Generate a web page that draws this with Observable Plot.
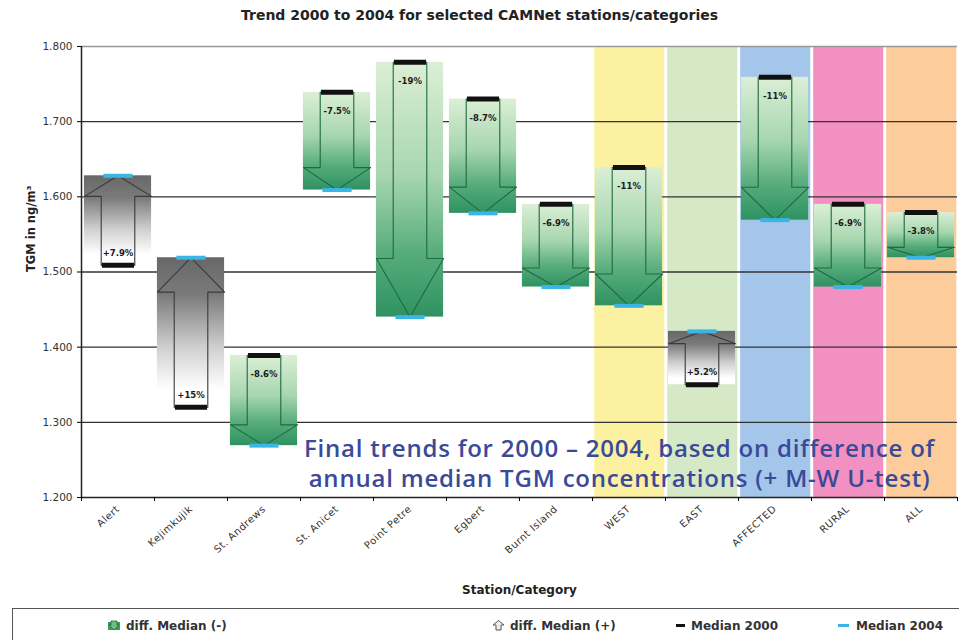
<!DOCTYPE html>
<html><head><meta charset="utf-8">
<script src="https://cdn.jsdelivr.net/npm/d3@7"></script>
<script src="https://cdn.jsdelivr.net/npm/@observablehq/plot@0.6"></script>
<style>
body{margin:0;width:959px;height:640px;overflow:hidden;background:#fff;font-family:"DejaVu Sans",sans-serif;position:relative}
#title{height:30px;line-height:30px;text-align:center;font-weight:bold;font-size:14px;color:#222}
#chart{height:575px}
#legendbox{position:absolute;left:12px;top:608px;width:960px;height:40px;border:1.5px solid #555;border-right:none;box-sizing:border-box}
.item{position:absolute;top:619px;font-weight:bold;font-size:12px;line-height:14px;color:#333;white-space:nowrap}
.item svg{vertical-align:-1px;margin-right:5px}
</style></head>
<body>
<div id="title">Trend 2000 to 2004 for selected CAMNet stations/categories</div>
<div id="chart"></div>
<div id="legendbox"></div>
<div class="item" style="left:107px"><svg width="14" height="11"><rect x="1" y="2" width="12" height="8" fill="#3f9a5c"/><path d="M4,1 L10,1 L10,5 L12,5 L7,10 L2,5 L4,5 Z" fill="#6cc07f" stroke="#1f6a40" stroke-width="0.8"/></svg>diff. Median (-)</div>
<div class="item" style="left:492px"><svg width="13" height="11"><path d="M1,5 L6.5,0.5 L12,5 L9,5 L9,10 L4,10 L4,5 Z" fill="#eee" stroke="#555" stroke-width="1"/></svg>diff. Median (+)</div>
<div class="item" style="left:676px"><svg width="10" height="11"><rect x="0" y="4" width="9" height="3" fill="#111"/></svg>Median 2000</div>
<div class="item" style="left:838px"><svg width="13" height="11"><rect x="0" y="4" width="11" height="3" fill="#3ab6e6"/></svg>Median 2004</div>
<script>
const categories = ["Alert","Kejimkujik","St. Andrews","St. Anicet","Point Petre","Egbert","Burnt Island","WEST","EAST","AFFECTED","RURAL","ALL"];
const median2000 = [1.509,1.320,1.389,1.739,1.779,1.730,1.590,1.639,1.350,1.759,1.590,1.579];
const median2004 = [1.628,1.519,1.269,1.609,1.440,1.578,1.480,1.455,1.421,1.569,1.480,1.519];
const changeLabels = ["+7.9%","+15%","-8.6%","-7.5%","-19%","-8.7%","-6.9%","-11%","+5.2%","-11%","-6.9%","-3.8%"];
const groupCategories = ["WEST","EAST","AFFECTED","RURAL","ALL"];
const groupColors = ["#fbf1a1","#d5e9c6","#a3c6ea","#f290c1","#fccc9a"];
const yTicks = [1.2,1.3,1.4,1.5,1.6,1.7,1.8];
const annotation = "Final trends for 2000 \u2013 2004, based on difference of\nannual median TGM concentrations (+ M-W U-test)";

const rows = categories.map((c,i)=>({cat:c,i,m2000:median2000[i],m2004:median2004[i],label:changeLabels[i],down:median2004[i]<median2000[i]}));
const HW=0.46, SW=0.23, HEAD=0.23;
const arrowPts = rows.flatMap(d=>{
  const hb = d.m2004 - HEAD*(d.m2004-d.m2000); const c=d.i;
  return [[c-SW,d.m2000],[c-SW,hb],[c-HW,hb],[c,d.m2004],[c+HW,hb],[c+SW,hb],[c+SW,d.m2000],[c-SW,d.m2000]]
    .map(([x,y])=>({x,y,cat:d.cat,down:d.down}));
});
const bands = groupCategories.map((g,k)=>({i:categories.indexOf(g), fill:groupColors[k]}));

function gradients(){
  const d = d3.create("svg:defs");
  const add=(id,stops)=>{const g=d.append("linearGradient").attr("id",id).attr("x1",0).attr("y1",0).attr("x2",0).attr("y2",1);
    stops.forEach(([o,c])=>g.append("stop").attr("offset",o).attr("stop-color",c));};
  add("gDown",[[0,"#dcefd6"],[0.45,"#a6d6ae"],[0.76,"#55ab7a"],[1,"#2f9262"]]);
  add("gUp",[[0,"#686868"],[0.25,"#7a7a7a"],[0.6,"#cfcfcf"],[0.88,"#ffffff"]]);
  return d.node();
}

const chart = Plot.plot({
  width:959, height:575, marginTop:16, marginLeft:81, marginRight:2, marginBottom:108,
  style:{fontFamily:"DejaVu Sans", background:"#fff"},
  x:{domain:[-0.5,11.5]}, y:{domain:[1.2,1.8]}, color:{type:"identity"},
  marks:[
    gradients,
    Plot.rect(bands,{x1:d=>d.i-0.47,x2:d=>d.i+0.49,y1:1.2,y2:1.8,fill:"fill"}),
    Plot.ruleY(yTicks.slice(1,-1),{stroke:"#333",strokeWidth:1.4}),
    Plot.ruleY([1.8],{stroke:"#999",strokeWidth:1.5}),
    Plot.rect(rows.filter(d=>d.down),{x1:d=>d.i-HW,x2:d=>d.i+HW,y1:"m2000",y2:"m2004",fill:"url(#gDown)"}),
    Plot.rect(rows.filter(d=>!d.down),{x1:d=>d.i-HW,x2:d=>d.i+HW,y1:"m2000",y2:"m2004",fill:"url(#gUp)"}),
    Plot.line(arrowPts.filter(d=>d.down),{x:"x",y:"y",z:"cat",stroke:"#1f6a40",strokeWidth:1.1}),
    Plot.line(arrowPts.filter(d=>!d.down),{x:"x",y:"y",z:"cat",stroke:"#3a3a3a",strokeWidth:1.1}),
    Plot.link(rows,{x1:d=>d.i-0.22,x2:d=>d.i+0.22,y1:"m2000",y2:"m2000",stroke:"#111",strokeWidth:5}),
    Plot.link(rows,{x1:d=>d.i-0.2,x2:d=>d.i+0.2,y1:"m2004",y2:"m2004",stroke:"#3ab6e6",strokeWidth:4}),
    Plot.text(rows.filter(d=>d.down),{x:"i",y:"m2000",text:"label",dy:19,fontSize:8.5,fontWeight:"bold",fill:"#1a1a1a"}),
    Plot.text(rows.filter(d=>!d.down),{x:"i",y:"m2000",text:"label",dy:-12,fontSize:8.5,fontWeight:"bold",fill:"#1a1a1a"}),
    Plot.text([annotation],{x:6.87,y:1.247,text:d=>d,fontFamily:"Open Sans",fontSize:24,fill:"#3a4a98",lineHeight:1.27,textAnchor:"middle"}),
    Plot.ruleX([-0.5],{stroke:"#222",strokeWidth:1.5}),
    Plot.ruleY([1.2],{stroke:"#222",strokeWidth:1.5}),
    Plot.axisY(yTicks,{tickFormat:d=>d.toFixed(3),tickSize:4,fontSize:10.5,fill:"#333",label:null}),
    Plot.axisX(d3.range(13).map(i=>i-0.5),{tickSize:4,tickFormat:()=>"",label:null}),
    Plot.axisX(d3.range(12),{tickSize:0,tickPadding:10,tickFormat:i=>categories[i],tickRotate:-42,fontSize:10,fill:"#333",label:null}),
    Plot.text(["TGM in ng/m\u00b3"],{text:d=>d,frameAnchor:"left",rotate:-90,dx:-50,fontWeight:"bold",fontSize:11.5,fill:"#222"}),
    Plot.text(["Station/Category"],{text:d=>d,frameAnchor:"bottom",dy:96,fontWeight:"bold",fontSize:12,fill:"#222"})
  ]
});
const sel = d3.select(chart);
sel.selectAll("text").filter(function(){return this.textContent.startsWith("Final")||this.textContent.startsWith("annual");})
  .style("letter-spacing","0.8px").style("font-weight","600");
sel.selectAll("text").filter(function(){return categories.includes(this.textContent);})
  .style("letter-spacing","0.5px");
document.getElementById("chart").append(chart);
</script>
</body></html>
